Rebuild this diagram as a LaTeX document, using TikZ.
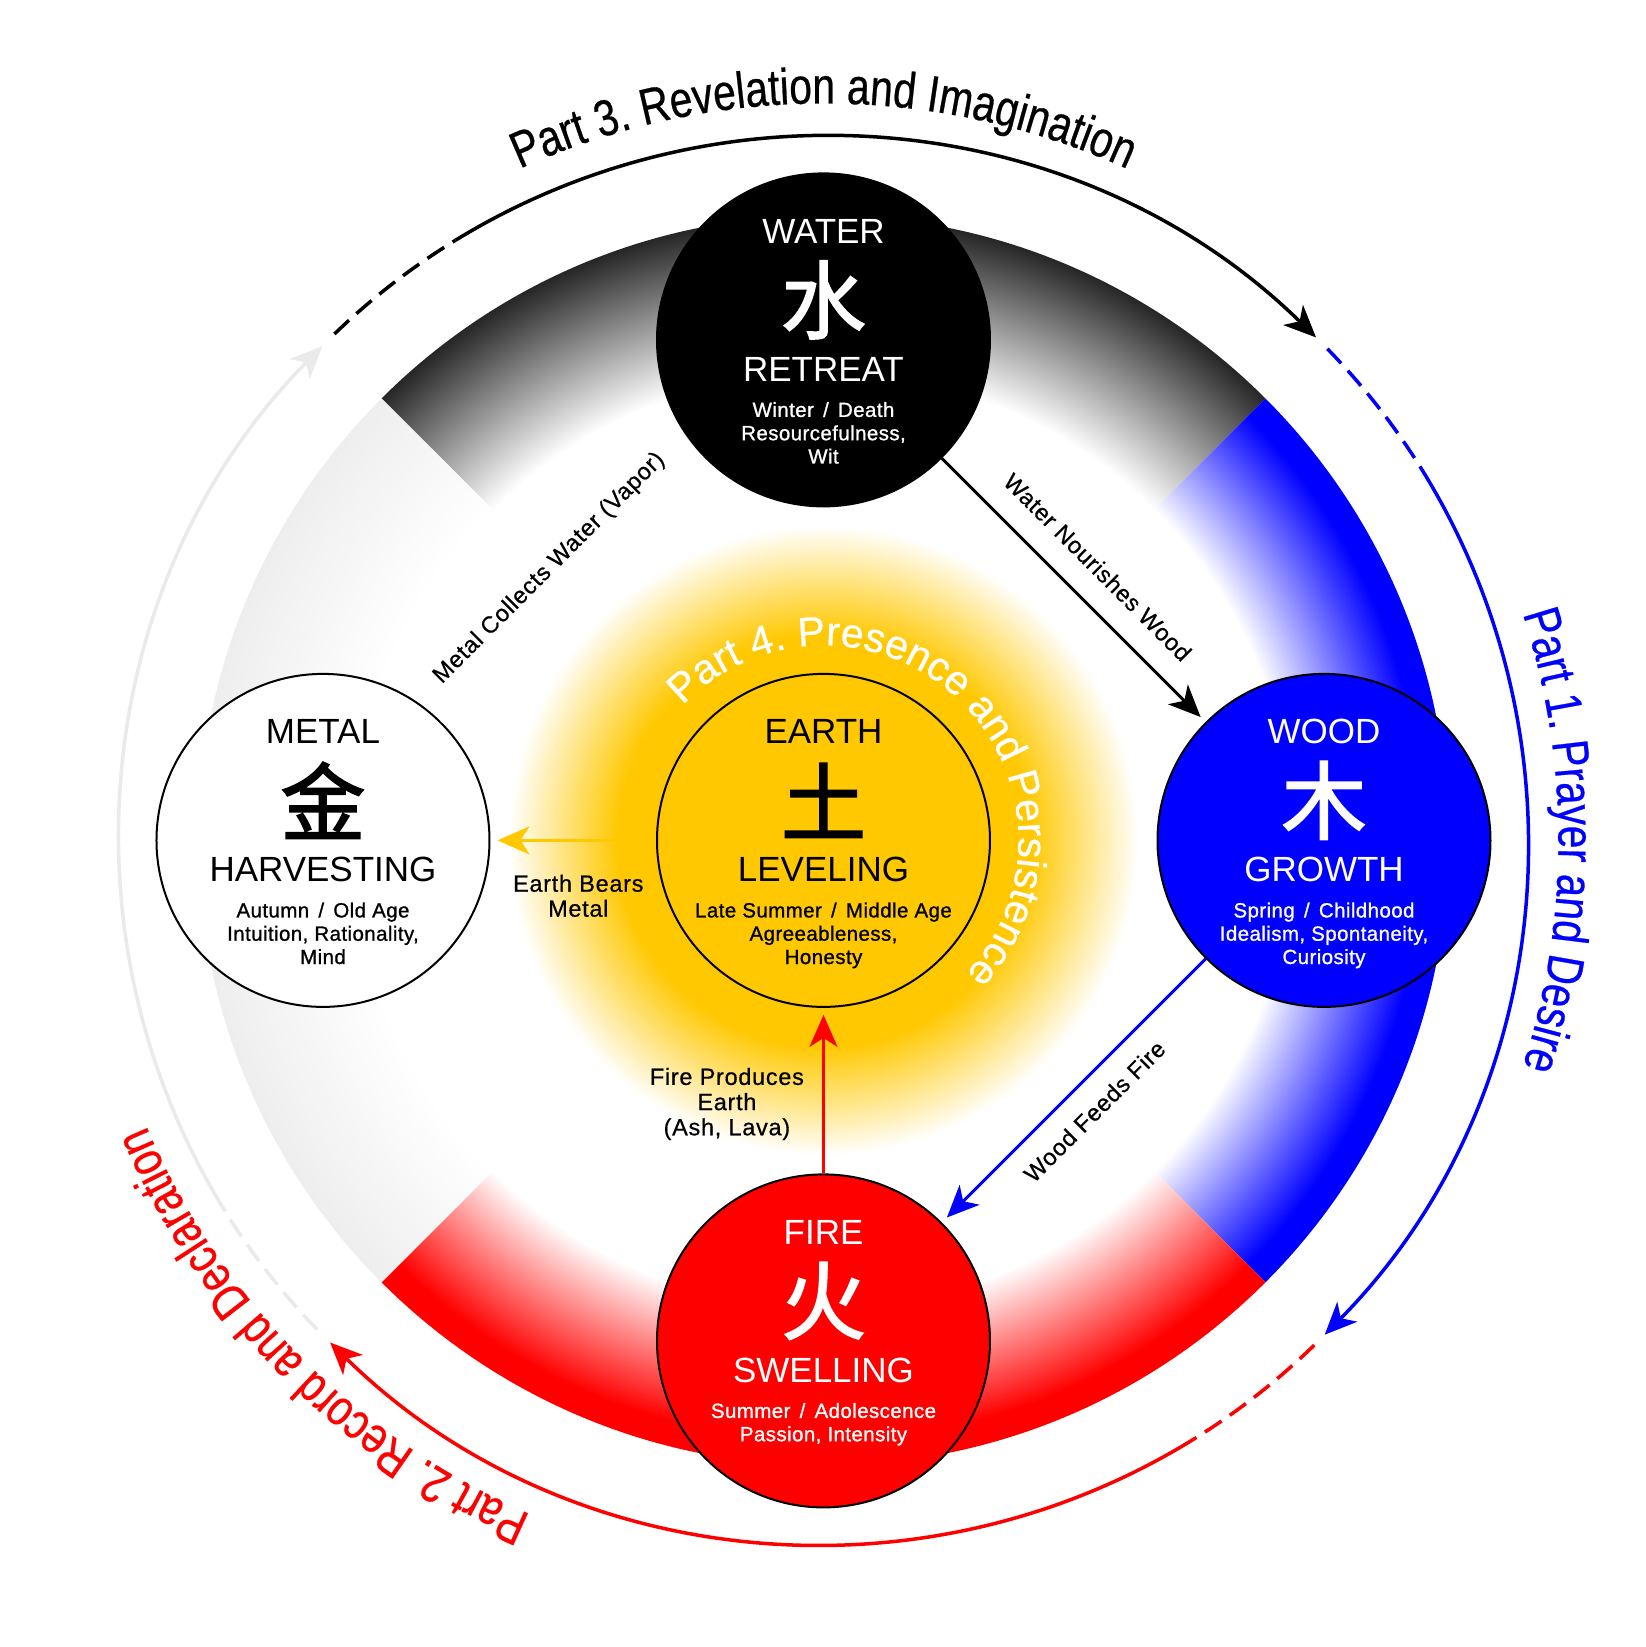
\documentclass[tikz,border=0pt]{standalone}
\usepackage{fontspec}
\setmainfont{Liberation Sans}
\newfontfamily\headfont{Liberation Sans}
\newfontfamily\subfont{Liberation Sans}[FakeBold=1,LetterSpace=2]
\newfontfamily\labfont{Liberation Sans}[FakeBold=0.6,LetterSpace=3]
\newfontfamily\partfont{Liberation Sans}[FakeStretch=0.8,FakeBold=0.5]
\newfontfamily\innerpartfont{Liberation Sans}[FakeBold=0.6]
\newfontfamily\cjkfont{Noto Sans CJK SC}[FakeBold=2]
\usetikzlibrary{arrows.meta,decorations.text,calc}

\definecolor{earthy}{RGB}{255,200,0}
\definecolor{metalg}{RGB}{238,238,238}
\definecolor{arcgray}{RGB}{234,234,234}
\definecolor{fireR}{RGB}{255,0,0}
\definecolor{woodB}{RGB}{0,0,255}
\definecolor{bandblack}{RGB}{38,38,38}

\pgfdeclareradialshading{bandK}{\pgfpoint{0bp}{0bp}}{color(0bp)=(white); color(18.7bp)=(white); color(25bp)=(bandblack); color(50bp)=(bandblack)}
\pgfdeclareradialshading{bandB}{\pgfpoint{0bp}{0bp}}{color(0bp)=(white); color(18.7bp)=(white); color(24bp)=(woodB); color(50bp)=(woodB)}
\pgfdeclareradialshading{bandR}{\pgfpoint{0bp}{0bp}}{color(0bp)=(white); color(18.7bp)=(white); color(24bp)=(fireR); color(50bp)=(fireR)}
\pgfdeclareradialshading{bandG}{\pgfpoint{0bp}{0bp}}{color(0bp)=(white); color(18.7bp)=(white); color(25bp)=(metalg); color(50bp)=(metalg)}
\pgfdeclareradialshading{glow}{\pgfpoint{0bp}{0bp}}{color(0bp)=(earthy); color(16.3bp)=(earthy); color(25bp)=(white); color(50bp)=(white)}

\newcommand\slsep{\hspace{0.45em}/\hspace{0.45em}}

\tikzset{
 elem/.style={circle, minimum size=333pt, inner sep=0pt, draw=black, line width=2pt},
 headtxt/.style={font=\headfont\fontsize{35}{35}\selectfont, inner sep=0pt, anchor=base},
 cjktxt/.style={font=\cjkfont\fontsize{85}{85}\selectfont, inner sep=0pt},
 subtxt/.style={font=\subfont\fontsize{20.5}{20.5}\selectfont, inner sep=0pt, anchor=base},
 labtxt/.style={font=\labfont\fontsize{23.5}{23.5}\selectfont, inner sep=0pt},
 conn/.style={line width=3pt, -{Stealth[length=32pt,width=28pt,inset=9pt]}, shorten >=7pt},
 arcline/.style={line width=3.5pt},
 arcdash/.style={line width=3.5pt, dash pattern=on 20pt off 10pt},
 arcarrow/.style={-{Stealth[length=32pt,width=28pt,inset=9pt]}},
}

% name, colour, heading, cjk, keyword, line1, line2
\newcommand\elemtexts[7]{%
 \node[headtxt, text=#2] (#1-head) at ($(#1)+(0,96.5)$) {#3};
 \node[cjktxt, text=#2] (#1-cjk) at ($(#1)+(0,40)$) {#4};
 \node[headtxt, text=#2] (#1-key) at ($(#1)+(0,-41.5)$) {#5};
 \node[subtxt, text=#2] (#1-l1) at ($(#1)+(0,-77)$) {#6};
 \node[subtxt, text=#2] (#1-l2) at ($(#1)+(0,-100.3)$) {#7};
}

\begin{document}
\begin{tikzpicture}[x=1pt,y=1pt]
\useasboundingbox (-823.5,-806.6) rectangle (822.5,840.4);
\fill[white] (-823.5,-806.6) rectangle (822.5,840.4);

% coloured band sectors
\foreach \sh/\a in {bandK/45, bandB/-45, bandR/-135, bandG/135}{
  \begin{scope}
    \clip (0,0) -- (\a:900) arc[start angle=\a, end angle=\a+90, radius=900] -- cycle;
    \shade[shading=\sh] (0,0) circle[radius=625];
  \end{scope}
}

% glow around earth
\shade[shading=glow] (0,0) circle[radius=315];

% outer arcs
\draw[arcdash, black] (134:704) arc[start angle=134, end angle=121.5, radius=704];
\draw[arcline, arcarrow, black] (121.5:704) arc[start angle=121.5, end angle=45.6, radius=704];
\draw[arcdash, woodB] (44.3:704) arc[start angle=44.3, end angle=31.8, radius=704];
\draw[arcline, arcarrow, woodB] (31.8:704) arc[start angle=31.8, end angle=-44.6, radius=704];
\draw[arcdash, fireR] (-45.8:704) arc[start angle=-45.8, end angle=-58.3, radius=704];
\draw[arcline, arcarrow, fireR] (-58.3:704) arc[start angle=-58.3, end angle=-134.5, radius=704];
\draw[arcdash, arcgray] (-136:704) arc[start angle=-136, end angle=-148.5, radius=704];
\draw[arcline, arcarrow, arcgray] (-148.5:704) arc[start angle=-148.5, end angle=-224.6, radius=704];

% part titles
\path[decorate, decoration={text along path, text color=black, text align=center,
  text={|\partfont\fontsize{51}{51}\selectfont|Part 3. Revelation and Imagination}}]
  (125:737) arc[start angle=125, end angle=55, radius=737];
\path[decorate, decoration={text along path, text color=woodB, text align=center,
  text={|\partfont\fontsize{51}{51}\selectfont|Part 1. Prayer and Desire}}]
  (30:735) arc[start angle=30, end angle=-30, radius=735];
\path[decorate, decoration={text along path, text color=fireR, text align=center,
  text={|\partfont\fontsize{51}{51}\selectfont|Part 2. Record and Declaration}}]
  (-105.3:735) arc[start angle=-105.3, end angle=-165.3, radius=735];

% element circles
\node[elem, fill=black] (water) at (0,500.5) {};
\node[elem, fill=woodB] (wood) at (500.5,0) {};
\node[elem, fill=fireR] (fire) at (0,-500.5) {};
\node[elem, fill=white] (metal) at (-500.5,0) {};
\node[elem, fill=earthy] (earth) at (0,0) {};

\path[decorate, decoration={text along path, text color=white, text align=center,
  text={|\innerpartfont\fontsize{41}{41}\selectfont|Part 4. Presence and Persistence}}]
  (151.5:195) arc[start angle=151.5, end angle=-58.5, radius=195];

% texts in circles
\elemtexts{water}{white}{WATER}{水}{RETREAT}{Winter\slsep Death}{Resourcefulness,}
\node[subtxt, text=white] (water-l3) at ($(water)+(0,-123.6)$) {Wit};
\elemtexts{wood}{white}{WOOD}{木}{GROWTH}{Spring\slsep Childhood}{Idealism, Spontaneity,}
\node[subtxt, text=white] (wood-l3) at ($(wood)+(0,-123.6)$) {Curiosity};
\elemtexts{fire}{white}{FIRE}{火}{SWELLING}{Summer\slsep Adolescence}{Passion, Intensity}
\elemtexts{metal}{black}{METAL}{金}{HARVESTING}{Autumn\slsep Old Age}{Intuition, Rationality,}
\node[subtxt, text=black] (metal-l3) at ($(metal)+(0,-123.6)$) {Mind};
\elemtexts{earth}{black}{EARTH}{土}{LEVELING}{Late Summer\slsep Middle Age}{Agreeableness,}
\node[subtxt, text=black] (earth-l3) at ($(earth)+(0,-123.6)$) {Honesty};

% connectors
\draw[conn, black] (water.-45) -- (wood.135);
\draw[conn, woodB] (wood.-135) -- (fire.45);
\draw[conn, fireR] (fire.north) -- (earth.south);
\draw[conn, earthy] (earth.west) -- (metal.east);
\draw[conn, white] (metal.45) -- (water.-135);

% connector labels
\node[labtxt, rotate=-45] (lab-ww) at (274.2,273.2) {Water Nourishes Wood};
\node[labtxt, rotate=45] (lab-wf) at (271,-270.9) {Wood Feeds Fire};
\node[labtxt, rotate=45] (lab-mw) at (-274.1,272.1) {Metal Collects Water (Vapor)};
\node[labtxt, anchor=base] (lab-fe1) at (-96.6,-244.5) {Fire Produces};
\node[labtxt, anchor=base] (lab-fe2) at (-96.6,-269.7) {Earth};
\node[labtxt, anchor=base] (lab-fe3) at (-96.6,-294.9) {(Ash, Lava)};
\node[labtxt, anchor=base] (lab-em1) at (-245.2,-51.3) {Earth Bears};
\node[labtxt, anchor=base] (lab-em2) at (-245.2,-76.3) {Metal};
\end{tikzpicture}
\end{document}
